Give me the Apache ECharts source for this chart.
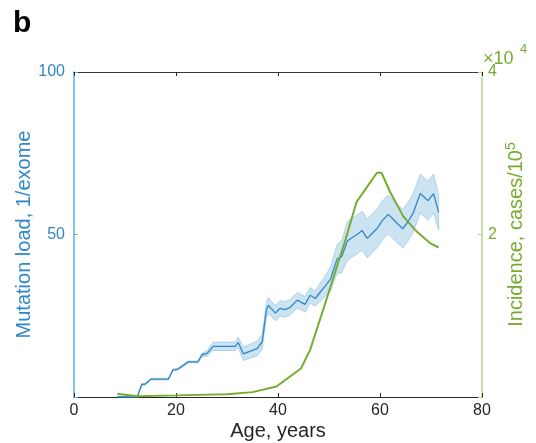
<!DOCTYPE html>
<html>
<head>
<meta charset="utf-8">
<script src="https://cdn.jsdelivr.net/npm/echarts@6/dist/echarts.min.js"></script>
<style>
  html, body { margin: 0; padding: 0; background: #fff; }
  #chart { width: 536px; height: 443px; }
</style>
</head>
<body>
<div id="chart"></div>
<script>
// Mutation load (per exome) versus age, with its uncertainty band
const loadAges = [8.5, 12.4, 13.3, 13.9, 15.1, 18.5, 19.4, 20.4, 22.4, 24.3, 25.1, 26.1, 27.3, 31.6, 32.2, 33.2, 35.9, 36.9, 37.7, 38.1, 39.5, 40.4, 41.4, 42.4, 43.8, 45.3, 46.3, 47.3, 48.3, 49.3, 50.3, 51.6, 52.5, 53.6, 54.5, 55.5, 56.5, 57.5, 58.5, 59.5, 60.4, 61.6, 62.4, 63.4, 64.5, 65.5, 66.5, 67.9, 69.4, 70.5, 71.5];
const mutationLoad = [0, 0, 3.9, 3.9, 5.5, 5.5, 8.3, 8.6, 10.8, 10.8, 13.0, 13.4, 15.6, 15.6, 16.8, 13.3, 14.9, 17.0, 26.5, 28.2, 25.8, 27.3, 26.9, 27.6, 29.8, 28.5, 31.3, 30.3, 32.3, 34.2, 36.3, 42.5, 43.2, 48.0, 49.0, 50.0, 51.2, 48.8, 50.4, 52.0, 54.2, 56.2, 55.0, 53.4, 51.8, 54.0, 56.6, 62.6, 60.4, 62.6, 56.8];
const loadLower = [0, 0, 3.6, 3.6, 5.2, 5.2, 8.0, 8.3, 10.5, 10.5, 12.5, 12.5, 14.3, 14.3, 15.2, 11.2, 12.6, 14.7, 24.1, 25.8, 23.4, 24.9, 24.5, 25.2, 27.4, 26.1, 28.9, 27.9, 29.5, 31.0, 32.5, 38.0, 38.2, 42.0, 43.0, 44.0, 45.2, 42.8, 44.4, 46.0, 48.2, 50.2, 49.0, 47.4, 45.8, 48.0, 50.6, 56.6, 54.4, 56.6, 51.3];
const loadUpper = [0.3, 0.3, 4.2, 4.2, 5.8, 5.8, 8.6, 8.9, 11.1, 11.1, 13.5, 14.3, 16.9, 16.9, 18.4, 15.4, 17.2, 19.3, 28.9, 30.6, 28.2, 29.7, 29.3, 30.0, 32.2, 30.9, 33.7, 32.7, 35.1, 37.4, 40.1, 47.0, 48.2, 54.0, 55.0, 56.0, 57.2, 54.8, 56.4, 58.0, 60.2, 62.2, 61.0, 59.4, 57.8, 60.0, 62.6, 68.6, 66.4, 68.6, 62.3];

// Cancer incidence, cases per 10^5, versus age
const incidenceAges = [8.5, 12.4, 20, 30, 35, 39.7, 44.5, 46.3, 49.5, 53.2, 55.4, 57.5, 59.4, 60.3, 62, 64.6, 67.3, 69.9, 71.5];
const incidence = [400, 100, 200, 350, 600, 1300, 3500, 5800, 12000, 19300, 24000, 25900, 27600, 27600, 25200, 22200, 20300, 18900, 18400];

// Axis ticks
const ageTicks = [0, 20, 40, 60, 80];
const loadTicks = [0, 50, 100];
const incidenceTicks = [0, 20000, 40000];

const BLUE = '#2f87c8';
const BLUE_AXIS = '#62aee6';
const GREEN = '#77ac30';
const GREEN_AXIS = '#b3d68a';
const DARK = '#262626';
const FONT = '"Liberation Sans", Arial, Helvetica, sans-serif';

const chart = echarts.init(document.getElementById('chart'), null, { renderer: 'canvas' });

const option = {
  animation: false,
  backgroundColor: '#ffffff',
  textStyle: { fontFamily: FONT },
  grid: { left: 74, right: 54, top: 72, bottom: 46, containLabel: false, outerBoundsMode: 'none' },
  xAxis: [
    {
      type: 'value', position: 'bottom',
      min: ageTicks[0], max: ageTicks[ageTicks.length - 1], interval: ageTicks[1] - ageTicks[0],
      axisLine: { onZero: false, lineStyle: { color: DARK, width: 1 } },
      axisTick: { inside: true, length: 4, lineStyle: { color: DARK } },
      axisLabel: { color: DARK, fontSize: 16, margin: 6, fontFamily: FONT },
      splitLine: { show: false },
      name: 'Age, years', nameLocation: 'middle', nameGap: 24, nameMoveOverlap: false,
      nameTextStyle: { color: DARK, fontSize: 20, fontFamily: FONT }
    },
    {
      type: 'value', position: 'top',
      min: ageTicks[0], max: ageTicks[ageTicks.length - 1], interval: ageTicks[1] - ageTicks[0],
      axisLine: { onZero: false, lineStyle: { color: '#3a3a3a', width: 1 } },
      axisTick: { inside: true, length: 4, lineStyle: { color: DARK } },
      axisLabel: { show: false },
      splitLine: { show: false }
    }
  ],
  yAxis: [
    {
      type: 'value', position: 'left',
      min: loadTicks[0], max: loadTicks[loadTicks.length - 1], interval: loadTicks[1] - loadTicks[0],
      axisLine: { show: true, onZero: false, lineStyle: { color: BLUE_AXIS, width: 1.5 } },
      axisTick: { show: true, inside: true, length: 4, lineStyle: { color: BLUE_AXIS } },
      axisLabel: { color: BLUE, fontSize: 16, margin: 9, fontFamily: FONT,
        formatter: v => (v === 0 ? '' : String(v)) },
      splitLine: { show: false },
      name: 'Mutation load, 1/exome', nameLocation: 'middle', nameGap: 40, nameRotate: 90,
      nameMoveOverlap: false,
      nameTextStyle: { color: BLUE, fontSize: 20, fontFamily: FONT }
    },
    {
      type: 'value', position: 'right',
      min: incidenceTicks[0], max: incidenceTicks[incidenceTicks.length - 1], interval: incidenceTicks[1] - incidenceTicks[0],
      axisLine: { show: true, onZero: false, lineStyle: { color: GREEN_AXIS, width: 1.5 } },
      axisTick: { show: true, inside: true, length: 4, lineStyle: { color: GREEN_AXIS } },
      axisLabel: { color: GREEN, fontSize: 16, margin: 6, fontFamily: FONT,
        formatter: v => (v === 0 ? '' : String(v / 1e4)) },
      splitLine: { show: false },
      name: 'Incidence, cases/10{sup|5}', nameLocation: 'middle', nameGap: 22, nameRotate: 90,
      nameMoveOverlap: false,
      nameTextStyle: {
        color: GREEN, fontSize: 20, fontFamily: FONT, lineHeight: 24,
        rich: { sup: { color: GREEN, fontSize: 14, fontFamily: FONT, verticalAlign: 'top', lineHeight: 24 } }
      }
    }
  ],
  graphic: [
    { type: 'text', left: 13, top: 9,
      style: { text: 'b', fill: '#000', font: 'bold 30px ' + FONT } },
    { type: 'text', left: 483, top: 50,
      style: { text: '\u00d710', fill: GREEN, font: '18px ' + FONT } },
    { type: 'text', left: 520, top: 43,
      style: { text: '4', fill: GREEN, font: '13px ' + FONT } }
  ],
  series: [
    {
      // shaded band between lower and upper bounds
      type: 'custom',
      xAxisIndex: 0, yAxisIndex: 0,
      data: [[loadAges[0], loadLower[0]]],
      silent: true,
      z: 1,
      renderItem: function (params, api) {
        const pts = [];
        for (let i = 0; i < loadAges.length; i++) pts.push(api.coord([loadAges[i], loadUpper[i]]));
        for (let i = loadAges.length - 1; i >= 0; i--) pts.push(api.coord([loadAges[i], loadLower[i]]));
        return {
          type: 'polygon',
          shape: { points: pts },
          style: { fill: 'rgba(0,114,189,0.2)', stroke: 'rgba(0,114,189,0.22)', lineWidth: 1 }
        };
      }
    },
    {
      type: 'line',
      xAxisIndex: 0, yAxisIndex: 0,
      data: loadAges.map((a, i) => [a, mutationLoad[i]]),
      showSymbol: false,
      lineStyle: { color: BLUE, width: 1.3 },
      z: 3
    },
    {
      type: 'line',
      xAxisIndex: 0, yAxisIndex: 1,
      data: incidenceAges.map((a, i) => [a, incidence[i]]),
      showSymbol: false,
      lineStyle: { color: GREEN, width: 2 },
      z: 4
    }
  ]
};

chart.setOption(option);
</script>
</body>
</html>
